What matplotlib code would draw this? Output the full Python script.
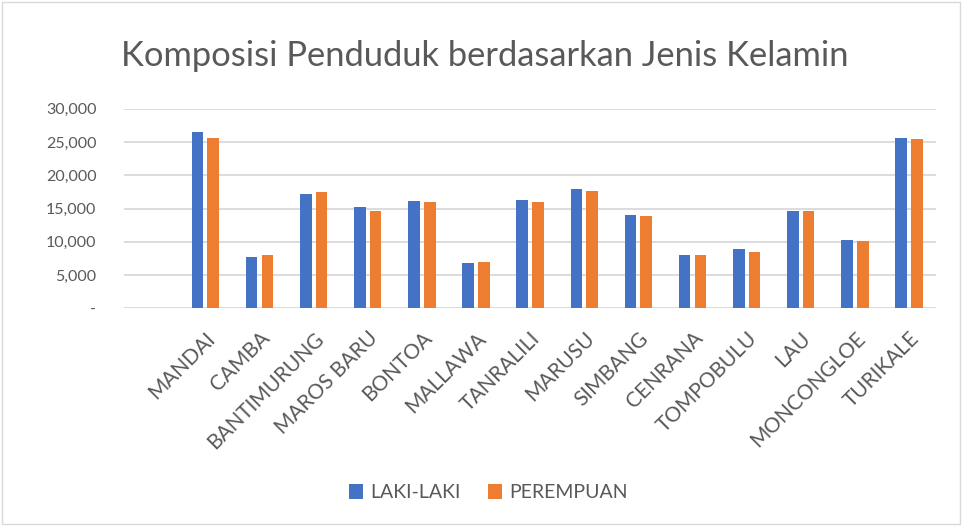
import numpy as np
import matplotlib
matplotlib.use('Agg')
import matplotlib.pyplot as plt
import matplotlib.ticker as mticker
import matplotlib.transforms as mtrans

# data
kecamatan = ['MANDAI', 'CAMBA', 'BANTIMURUNG', 'MAROS BARU', 'BONTOA', 'MALLAWA',
             'TANRALILI', 'MARUSU', 'SIMBANG', 'CENRANA', 'TOMPOBULU', 'LAU',
             'MONCONGLOE', 'TURIKALE']
laki = [26450, 7730, 17220, 15200, 16210, 6870, 16360, 17930, 14090, 8030,
        8840, 14650, 10300, 25600]
perempuan = [25660, 8030, 17420, 14600, 16060, 6970, 16060, 17630, 13840, 8030,
             8430, 14650, 10050, 25400]
yticks = [0, 5000, 10000, 15000, 20000, 25000, 30000]

plt.rcParams['font.family'] = ['Lato', 'DejaVu Sans']
grey = '#595959'

fig = plt.figure(figsize=(9.63, 5.26), dpi=100)
ax = fig.add_axes([0.129, 0.414, 0.843, 0.379])

x = np.arange(len(kecamatan))
w = 0.215
ax.bar(x - 0.145, laki, w, color='#4472C4', label='LAKI-LAKI', zorder=3)
ax.bar(x + 0.145, perempuan, w, color='#ED7D31', label='PEREMPUAN', zorder=3)

ax.set_xlim(-1.5, len(kecamatan) - 0.5)
ax.set_ylim(0, 30000)
ax.set_yticks(yticks)
ax.yaxis.set_major_formatter(mticker.FuncFormatter(lambda v, p: '-' if v == 0 else f'{int(v):,}'))
ax.yaxis.grid(True, color='#d9d9d9', linewidth=1.3, zorder=0)
for s in ax.spines.values():
    s.set_visible(False)
ax.tick_params(axis='y', length=0, colors=grey, labelsize=11.5, pad=20)

ax.set_xticks(x)
ax.set_xticklabels(kecamatan, rotation=45, ha='right', va='center', rotation_mode='anchor')
ax.tick_params(axis='x', length=0, colors=grey, labelsize=15, pad=18)
# nudge labels a bit to the right like the excel chart
shift = mtrans.ScaledTranslation(7 / 100, -2 / 100, fig.dpi_scale_trans)
for lbl in ax.get_xticklabels():
    lbl.set_transform(lbl.get_transform() + shift)

fig.text(0.503, 0.893, 'Komposisi Penduduk berdasarkan Jenis Kelamin', ha='center',
         va='center', fontsize=24.8, color=grey)

fig.legend(loc='center', bbox_to_anchor=(0.507, 0.063), ncol=2, frameon=False,
           fontsize=14, labelcolor=grey, handlelength=0.75, handleheight=0.75,
           columnspacing=1.4, handletextpad=0.35)

# outer chart border
fig.patches.append(plt.Rectangle((0.002, 0.004), 0.995, 0.993, transform=fig.transFigure,
                                 fill=False, edgecolor='#d9d9d9', linewidth=1))

fig.savefig('out.png', dpi=100)
